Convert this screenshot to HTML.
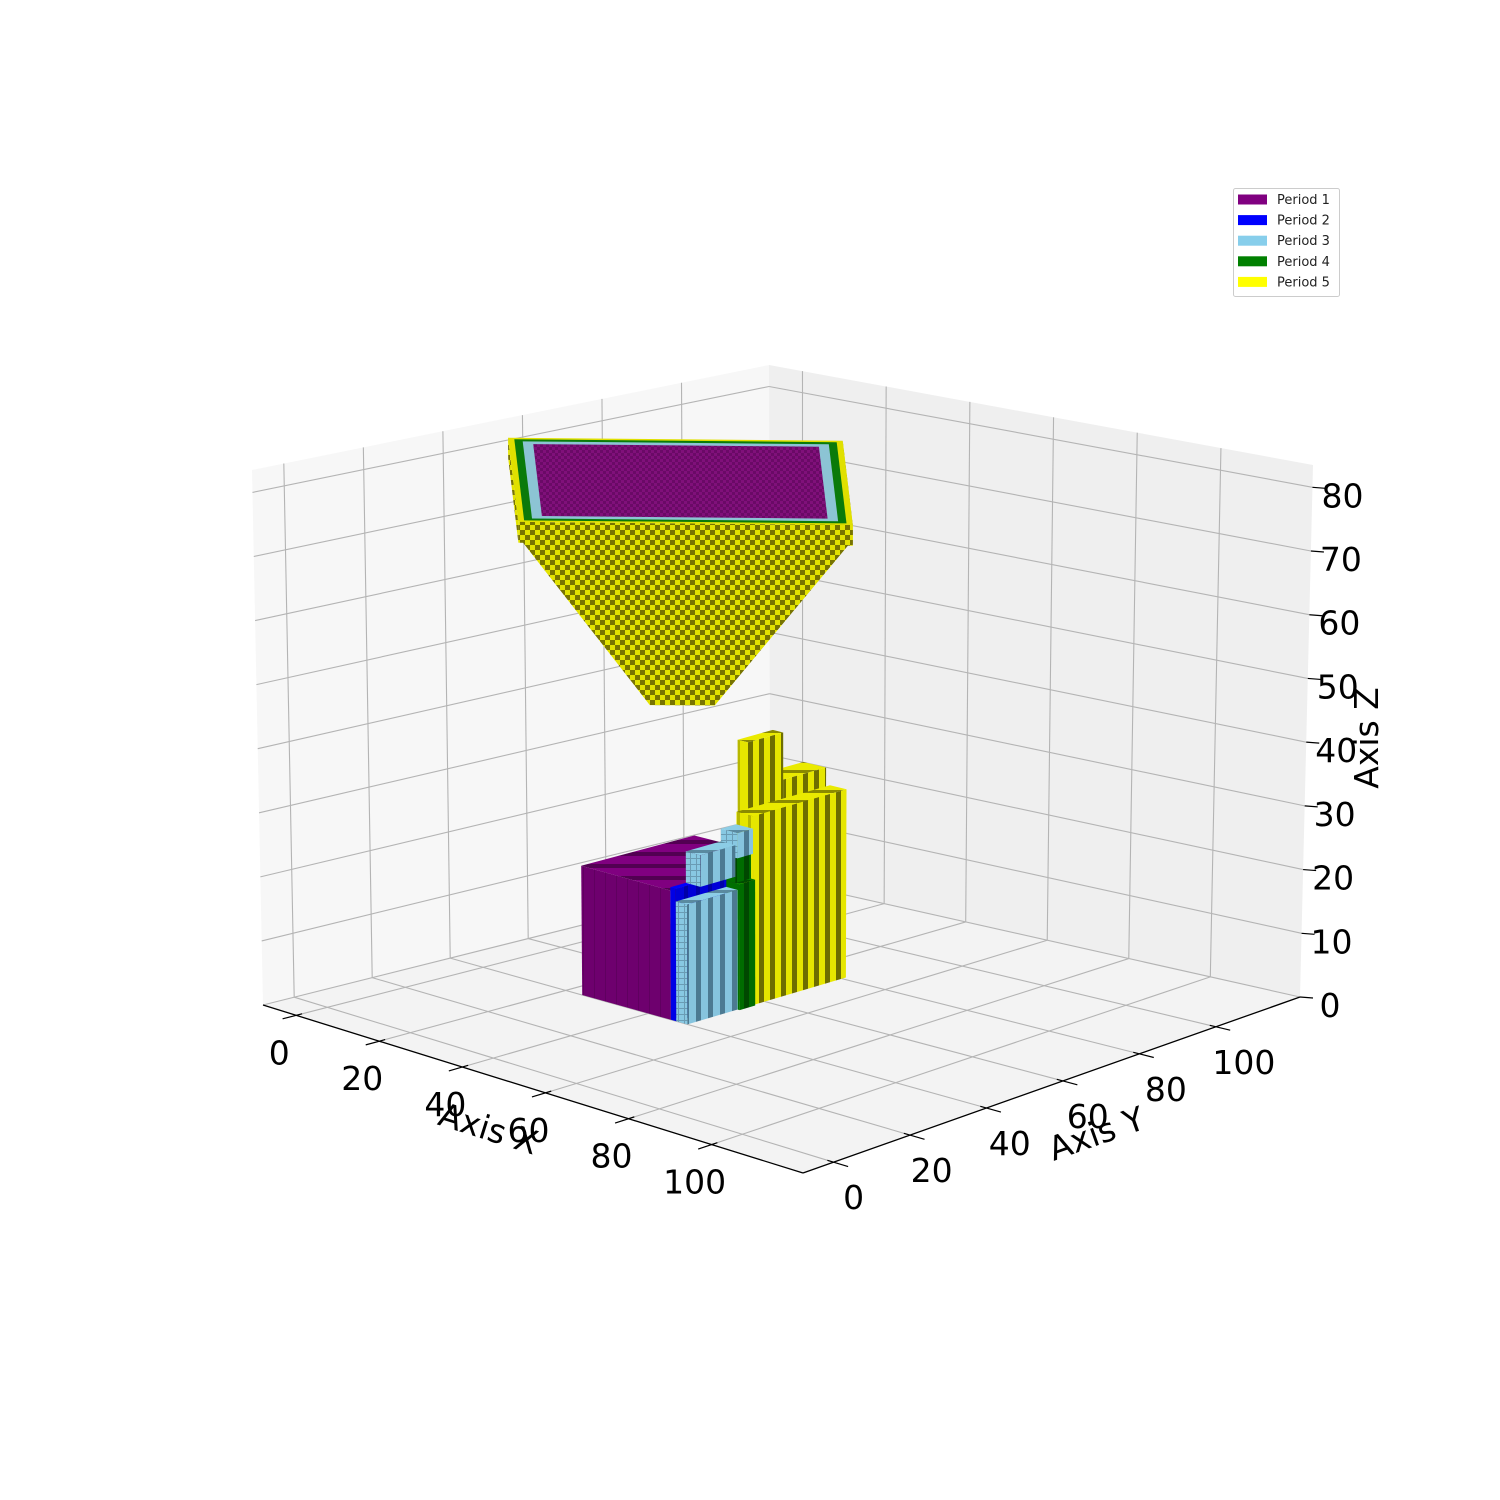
<!DOCTYPE html>
<html><head><meta charset="utf-8"><title>Voxel periods</title>
<style>
html,body{margin:0;padding:0;background:#fff;}
svg{display:block;font-family:"DejaVu Sans","Liberation Sans",sans-serif;}
</style></head>
<body>
<svg id="chart" width="1500" height="1500" viewBox="0 0 1500 1500" xmlns="http://www.w3.org/2000/svg">
<defs>
  <pattern id="chk" patternUnits="userSpaceOnUse" width="10" height="10"><rect width="10" height="10" fill="#e2e200"/><rect width="5" height="5" fill="#787400"/><rect x="5" y="5" width="5" height="5" fill="#787400"/></pattern>
  <pattern id="chkP" patternUnits="userSpaceOnUse" width="6" height="6"><rect width="6" height="6" fill="#80107a"/><rect width="3" height="3" fill="#6a0a66"/><rect x="3" y="3" width="3" height="3" fill="#6a0a66"/></pattern>
  <pattern id="s1x" patternUnits="userSpaceOnUse" width="12" height="12"><rect width="12" height="12" fill="#6c006c"/><rect width="2" height="12" fill="#580058"/></pattern>
  <pattern id="s2x" patternUnits="userSpaceOnUse" width="12" height="12"><rect width="12" height="12" fill="#0000d8"/><rect width="4" height="12" fill="#0000a8"/></pattern>
  <pattern id="s3x" patternUnits="userSpaceOnUse" width="12" height="12"><rect width="12" height="12" fill="#86c4de"/><rect width="5" height="12" fill="#4c7a92"/></pattern>
  <pattern id="s4x" patternUnits="userSpaceOnUse" width="12" height="12"><rect width="12" height="12" fill="#006c00"/><rect width="5" height="12" fill="#004800"/></pattern>
  <pattern id="s5x" patternUnits="userSpaceOnUse" width="11" height="11"><rect width="11" height="11" fill="#e6e600"/><rect width="5" height="11" fill="#6e6e00"/></pattern>
  <pattern id="s1y" patternUnits="userSpaceOnUse" width="11" height="11"><rect width="11" height="11" fill="#6e006e"/><rect width="1" height="11" fill="#600060"/></pattern>
  <pattern id="s3y" patternUnits="userSpaceOnUse" width="6" height="6"><rect width="6" height="6" fill="#88c8e2"/><rect width="1" height="6" fill="#6a9cb4"/><rect width="6" height="1" fill="#6a9cb4"/></pattern>
  <pattern id="s5y" patternUnits="userSpaceOnUse" width="11" height="11"><rect width="11" height="11" fill="#e6e600"/><rect width="3" height="11" fill="#b8b800"/></pattern>
  <pattern id="t1" patternUnits="userSpaceOnUse" width="12" height="12"><rect width="12" height="12" fill="#800080"/><rect width="12" height="4" fill="#520052"/></pattern>
  <pattern id="t3" patternUnits="userSpaceOnUse" width="12" height="10"><rect width="12" height="10" fill="#8ccde6"/><rect width="12" height="3" fill="#5a8aa0"/></pattern>
  <pattern id="t4" patternUnits="userSpaceOnUse" width="10" height="10"><rect width="10" height="10" fill="#008000"/><rect width="10" height="3" fill="#004c00"/></pattern>
  <pattern id="t5" patternUnits="userSpaceOnUse" width="12" height="10"><rect width="12" height="10" fill="#eaea00"/><rect width="12" height="3" fill="#8a8a00"/></pattern>
</defs>
<g id="panes"></g>
<g id="grid"></g>
<g id="axes"></g>
<g id="voxels"></g>
<g id="funnel"></g>
<g id="labels" font-size="33" fill="#000"></g>
<text x="488" y="1140" font-size="33" text-anchor="middle" transform="rotate(17.5 488 1130)">Axis X</text>
<text x="1097" y="1145" font-size="33" text-anchor="middle" transform="rotate(-19.5 1097 1135)">Axis Y</text>
<text x="1378" y="738" font-size="33" text-anchor="middle" transform="rotate(-90 1378 738)">Axis Z</text>
<g>
  <rect x="1233.5" y="188.5" width="106" height="108" rx="2" fill="#fff" stroke="#cccccc"/>
  <g id="legendItems" font-size="13"></g>
</g>
</svg>
<script>
// ---- data ----
const periodNames = ["Period 1","Period 2","Period 3","Period 4","Period 5"];
const periodColors = ["#800080","#0000ff","#87ceeb","#008000","#ffff00"];
const xTicks = [0,20,40,60,80,100];
const yTicks = [0,20,40,60,80,100];
const zTicks = [0,10,20,30,40,50,60,70,80];
// bottom building blocks (data coordinates)
const blockX0 = [24, 45.5, 46.8, 45.5, 45.5, 45.5, 45.5, 45.5, 40, 43];
const blockX1 = [45.5, 46.8, 49.5, 49, 49.5, 50, 49, 49.5, 45.5, 45.5];
const blockY0 = [40, 40, 40, 44, 53, 53, 53, 57, 69, 60];
const blockY1 = [69, 53, 53, 53, 57, 57, 57, 81, 80, 69];
const blockZ0 = [0, 0, 0, 21, 24, 0, 20, 0, 0, 20];
const blockZ1 = [20.5, 21, 19, 26, 28, 20, 24, 30, 33, 40.5];
const blockPeriod = [1, 2, 3, 3, 3, 4, 4, 5, 5, 5];
// upper funnel: diamond (45°-rotated square) frustum + rim
const funnelCenter = [29.5, 60];
const funnelBottomR = 8;
const funnelBottomZ = 45;
const funnelTopR = 40;
const funnelTopZ = 76;
const rimR = 41;
const rimZ = [76, 79.3];
const rimBandR = [41, 39.5, 37.5, 35];
const rimBandPeriod = [5, 4, 3, 1];

// ---- projection ----
const XMIN=-8, XMAX=122, YMIN=-8, YMAX=122, ZMIN=0, ZMAX=83.5;
const C = {
  "000":[263,1005], "100":[803,1173], "110":[1300,997], "010":[770,878],
  "001":[252,470],  "101":[803,650],  "111":[1313,465], "011":[769,365]
};
function proj(x,y,z){
  const u=(x-XMIN)/(XMAX-XMIN), v=(y-YMIN)/(YMAX-YMIN), t=(z-ZMIN)/(ZMAX-ZMIN);
  const out=[0,0];
  for(let k=0;k<2;k++){
    const b = C["000"][k]*(1-u)*(1-v)+C["100"][k]*u*(1-v)+C["110"][k]*u*v+C["010"][k]*(1-u)*v;
    const tp= C["001"][k]*(1-u)*(1-v)+C["101"][k]*u*(1-v)+C["111"][k]*u*v+C["011"][k]*(1-u)*v;
    out[k]=b*(1-t)+tp*t;
  }
  return out;
}
const NS="http://www.w3.org/2000/svg";
function mk(tag,parent){const e=document.createElementNS(NS,tag);parent.appendChild(e);return e;}
function pts(list){return list.map(p=>{const q=proj(p[0],p[1],p[2]);return q[0].toFixed(1)+","+q[1].toFixed(1);}).join(" ");}
function line(parent,a,b,stroke,w){
  const l=mk("line",parent);const p=proj(...a),q=proj(...b);
  l.setAttribute("x1",p[0]);l.setAttribute("y1",p[1]);l.setAttribute("x2",q[0]);l.setAttribute("y2",q[1]);
  l.setAttribute("stroke",stroke);l.setAttribute("stroke-width",w);
  return l;
}

// ---- panes ----
const gP=document.getElementById("panes");
let e;
e=mk("polygon",gP);e.setAttribute("points",pts([[XMIN,YMIN,0],[XMAX,YMIN,0],[XMAX,YMAX,0],[XMIN,YMAX,0]]));e.setAttribute("fill","#f3f3f3");


e=mk("polygon",gP);e.setAttribute("points",pts([[XMIN,YMIN,0],[XMIN,YMAX,0],[XMIN,YMAX,ZMAX],[XMIN,YMIN,ZMAX]]));e.setAttribute("fill","#f7f7f7");


e=mk("polygon",gP);e.setAttribute("points",pts([[XMIN,YMAX,0],[XMAX,YMAX,0],[XMAX,YMAX,ZMAX],[XMIN,YMAX,ZMAX]]));e.setAttribute("fill","#efefef");



// ---- grid ----
const gG=document.getElementById("grid");
const GC="#b4b4b4";
xTicks.forEach(x=>{
  e=line(gG,[x,YMIN,0],[x,YMAX,0],GC,1.1);
  
  
  e=line(gG,[x,YMAX,0],[x,YMAX,ZMAX],GC,1.1);
  
  
});
yTicks.forEach(y=>{
  e=line(gG,[XMIN,y,0],[XMAX,y,0],GC,1.1);
  
  
  e=line(gG,[XMIN,y,0],[XMIN,y,ZMAX],GC,1.1);
  
  
});
zTicks.forEach(z=>{
  e=line(gG,[XMIN,YMIN,z],[XMIN,YMAX,z],GC,1.1);
  
  
  e=line(gG,[XMIN,YMAX,z],[XMAX,YMAX,z],GC,1.1);
  
  
});

// ---- axes ----
const gA=document.getElementById("axes");
e=line(gA,[XMIN,YMIN,0],[XMAX,YMIN,0],"#000",1.3);


e=line(gA,[XMAX,YMIN,0],[XMAX,YMAX,0],"#000",1.3);


const gL=document.getElementById("labels");
function txt(s,x,y,name){
  const t=mk("text",gL);t.textContent=s;t.setAttribute("x",x);t.setAttribute("y",y);t.setAttribute("text-anchor","middle");
  
  
}
xTicks.forEach(x=>{
  e=line(gA,[x,YMIN-3.5,0],[x,YMIN+1.5,0],"#000",1.2);
  
  
  const p=proj(x,YMIN,0);
  txt(String(x),p[0]-17,p[1]+49,"x-tick-label");
});
yTicks.forEach(y=>{
  e=line(gA,[XMAX-1.5,y,0],[XMAX+3.5,y,0],"#000",1.2);
  
  
  const p=proj(XMAX,y,0);
  txt(String(y),p[0]+20+y*0.08,p[1]+47,"y-tick-label");
});
zTicks.forEach(z=>{
  const p=proj(XMAX,YMAX,z);
  const l=mk("line",gA);
  l.setAttribute("x1",p[0]);l.setAttribute("y1",p[1]);l.setAttribute("x2",p[0]+13);l.setAttribute("y2",p[1]+1);
  l.setAttribute("stroke","#000");l.setAttribute("stroke-width",1.2);
  
  
  txt(String(z),p[0]+30,p[1]+20,"z-tick-label");
});

// ---- building blocks ----
const gV=document.getElementById("voxels");
const n=blockX0.length;
function behind(a,b){ // true if block a is behind block b
  if(blockX1[a]<=blockX0[b]) return true;
  if(blockX1[b]<=blockX0[a]) return false;
  if(blockY0[a]>=blockY1[b]) return true;
  if(blockY0[b]>=blockY1[a]) return false;
  if(blockZ1[a]<=blockZ0[b]) return true;
  return false;
}
const order=[];const used=new Array(n).fill(false);
for(let k=0;k<n;k++){
  for(let i=0;i<n;i++){
    if(used[i]) continue;
    let ok=true;
    for(let j=0;j<n;j++){ if(!used[j]&&j!==i&&behind(j,i)){ok=false;break;} }
    if(ok){order.push(i);used[i]=true;break;}
  }
}
for(let i=0;i<n;i++) if(!used[i]) order.push(i);
const sideX={1:"url(#s1x)",2:"url(#s2x)",3:"url(#s3x)",4:"url(#s4x)",5:"url(#s5x)"};
const sideY={1:"url(#s1y)",2:"#0000e6",3:"url(#s3y)",4:"#006e00",5:"url(#s5y)"};
const topF={1:"url(#t1)",2:"#0000ff",3:"url(#t3)",4:"url(#t4)",5:"url(#t5)"};
order.forEach(i=>{
  const x0=blockX0[i],x1=blockX1[i],y0=blockY0[i],y1=blockY1[i],z0=blockZ0[i],z1=blockZ1[i],p=blockPeriod[i];
  const g=mk("g",gV);
  
  
  let f=mk("polygon",g);f.setAttribute("points",pts([[x0,y0,z1],[x1,y0,z1],[x1,y1,z1],[x0,y1,z1]]));f.setAttribute("fill",topF[p]);
  
  
  f=mk("polygon",g);f.setAttribute("points",pts([[x0,y0,z0],[x1,y0,z0],[x1,y0,z1],[x0,y0,z1]]));f.setAttribute("fill",sideY[p]);
  
  
  f=mk("polygon",g);f.setAttribute("points",pts([[x1,y0,z0],[x1,y1,z0],[x1,y1,z1],[x1,y0,z1]]));f.setAttribute("fill",sideX[p]);
  
  
});

// ---- funnel (diamond) ----
const gF=document.getElementById("funnel");
const cx=funnelCenter[0], cy=funnelCenter[1];
function dia(r,z){ // corners: -x, -y, +x, +y
  return [[cx-r,cy,z],[cx,cy-r,z],[cx+r,cy,z],[cx,cy+r,z]];
}
function face(a,b,c,d,fill,name){
  const f=mk("polygon",gF);f.setAttribute("points",pts([a,b,c,d]));f.setAttribute("fill",fill);
  
  
  return f;
}
const T=dia(funnelTopR,funnelTopZ), B=dia(funnelBottomR,funnelBottomZ);
face(T[2],T[3],B[3],B[2],"url(#chk)","funnel-right-face");
face(T[0],T[1],B[1],B[0],"url(#chk)","funnel-left-face");
face(T[1],T[2],B[2],B[1],"url(#chk)","funnel-front-face");
// rim slab
const R0=dia(rimR,rimZ[0]), R1=dia(rimR,rimZ[1]);
face(R0[0],R0[1],R1[1],R1[0],"url(#chk)","rim-left-face");
face(R0[2],R0[3],R1[3],R1[2],"url(#chk)","rim-right-face");
face(R0[1],R0[2],R1[2],R1[1],"url(#chk)","rim-front-face");
const bandFill={5:"#e0e000",4:"#0a7a0a",3:"#8cc4d4",1:"url(#chkP)"};
rimBandR.forEach((r,k)=>{
  const b=mk("polygon",gF);
  b.setAttribute("points",pts(dia(r,rimZ[1])));
  b.setAttribute("fill",bandFill[rimBandPeriod[k]]);
  
  
});

// ---- legend ----
const gLeg=document.getElementById("legendItems");
periodNames.forEach((nm,i)=>{
  const y=199.5+i*20.6;
  const r=mk("rect",gLeg);r.setAttribute("x",1238);r.setAttribute("y",y-5);r.setAttribute("width",29);r.setAttribute("height",10);r.setAttribute("fill",periodColors[i]);
  
  
  const t=mk("text",gLeg);t.textContent=nm;t.setAttribute("x",1277);t.setAttribute("y",y+4.5);t.setAttribute("fill","#222");
  
  
});
</script>
</body></html>
